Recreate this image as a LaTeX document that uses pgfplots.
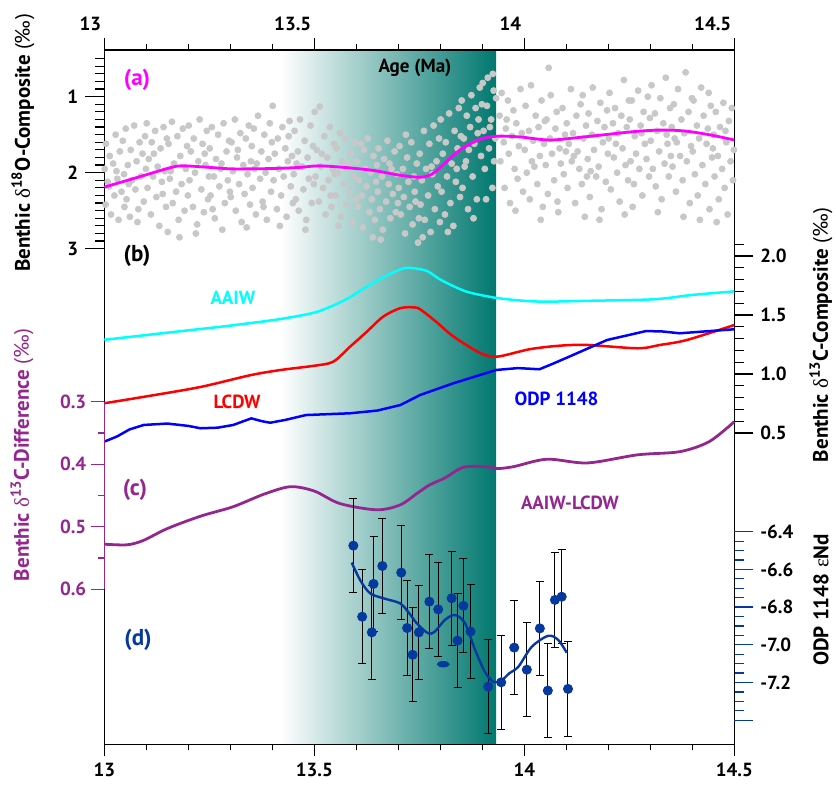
\documentclass[border=0pt]{standalone}
\usepackage{fontspec}
\setmainfont{PT Sans}
\newfontfamily\grk{Liberation Serif}
\usepackage{pgfplots}
\pgfplotsset{compat=1.18}
\definecolor{magC}{HTML}{FF00FF}
\definecolor{cyanC}{HTML}{00FFFF}
\definecolor{redC}{HTML}{FF0000}
\definecolor{blueC}{HTML}{0000FF}
\definecolor{purC}{HTML}{93278F}
\definecolor{ndC}{HTML}{05399E}
\definecolor{tealC}{HTML}{00786F}
\definecolor{scat}{HTML}{C8C8C8}
\newcommand\lab{\bfseries\fontsize{9.5}{11}\selectfont}
\newcommand\ttl{\bfseries\fontsize{10.5}{12}\selectfont}
\newcommand\pnl{\bfseries\fontsize{11.5}{13}\selectfont}
\newcommand\dl{{\grk\mdseries δ}}
\pgfplotsset{
  base/.style={scale only axis, width=315pt, xmin=13, xmax=14.5, clip=false,
    tick align=outside, axis line style={line width=0.75pt},
    every tick/.style={line width=0.6pt, black},
    ticklabel style={font=\lab},
    /pgf/number format/assume math mode=true},
}
\begin{document}
\begin{tikzpicture}
\useasboundingbox (0,0) rectangle (418pt,393pt);

% frame, shading and bottom ticks
\begin{axis}[base, at={(52.15pt,20.85pt)}, anchor=south west, height=347.15pt,
  ymin=0, ymax=1, ytick=\empty, axis on top,
  xtick={13,13.5,14,14.5}, xticklabels={13,13.5,14,14.5},
  minor xtick={13.1,13.2,13.3,13.4,13.6,13.7,13.8,13.9,14.1,14.2,14.3,14.4},
  xtick pos=left, major tick length=6pt, minor tick length=3pt]
  \fill[left color=white, right color=tealC] (axis cs:13.42,0) rectangle (axis cs:13.933,1);
\end{axis}

% (a) benthic d18O
\begin{axis}[base, at={(52.15pt,268.65pt)}, anchor=south west, height=95pt,
  ymin=0.5, ymax=3, y dir=reverse, axis x line=none, axis y line*=left,
  ytick={1,2,3}, yticklabels={1,2,3},
  minor ytick={0.5,0.6,0.7,0.8,0.9,1.1,1.2,1.3,1.4,1.5,1.6,1.7,1.8,1.9,2.1,2.2,2.3,2.4,2.5,2.6,2.7,2.8,2.9},
  major tick length=9.5pt, minor tick length=4.7pt]
  \addplot[scat, only marks, mark=*, mark size=1.5pt, mark options={draw=scat, fill=scat}] coordinates {
  (13.001,1.95)(13.003,2.42)(13.004,1.62)(13.011,2.18)(13.013,1.78)(13.016,2.55)(13.021,1.88)(13.024,2.30)(13.027,1.50)
  (13.031,2.08)(13.034,2.62)(13.037,1.72)(13.041,2.25)(13.044,1.58)(13.047,2.02)(13.008,2.12)(13.029,1.98)(13.048,2.45)
  (13.051,1.42)(13.053,2.35)(13.056,1.90)(13.061,2.58)(13.063,1.70)(13.066,2.10)(13.071,1.38)(13.074,2.22)(13.077,1.85)
  (13.081,2.48)(13.084,1.60)(13.087,2.05)(13.091,1.75)(13.094,2.38)(13.097,1.52)(13.058,2.15)(13.079,2.65)(13.099,1.95)
  (13.101,1.35)(13.103,2.20)(13.106,1.82)(13.111,2.55)(13.113,1.60)(13.116,2.05)(13.121,1.45)(13.124,2.32)(13.127,1.92)
  (13.131,2.70)(13.134,1.68)(13.137,2.12)(13.141,1.40)(13.144,1.98)(13.147,2.45)(13.118,1.75)(13.139,2.28)(13.149,1.55)
  (13.151,2.78)(13.153,1.62)(13.156,2.08)(13.161,1.33)(13.163,2.40)(13.166,1.88)(13.171,2.25)(13.174,1.52)(13.177,2.62)
  (13.181,1.78)(13.184,2.15)(13.187,1.42)(13.191,2.50)(13.194,1.95)(13.197,1.65)(13.158,1.98)(13.179,2.85)(13.199,2.30)
  (13.201,1.38)(13.203,2.10)(13.206,1.72)(13.211,2.45)(13.213,1.55)(13.216,2.00)(13.221,2.68)(13.224,1.85)(13.227,1.30)
  (13.231,2.22)(13.234,1.62)(13.237,2.52)(13.241,1.90)(13.244,1.45)(13.247,2.35)(13.218,2.80)(13.239,1.75)(13.249,2.05)
  (13.251,1.68)(13.253,2.30)(13.256,1.40)(13.261,2.05)(13.263,2.60)(13.266,1.82)(13.271,1.50)(13.274,2.18)(13.277,1.95)
  (13.281,2.75)(13.284,1.35)(13.287,2.40)(13.291,1.72)(13.294,2.10)(13.297,1.58)(13.258,2.48)(13.279,1.88)(13.299,2.25)
  (13.301,2.32)(13.303,1.60)(13.306,1.98)(13.311,1.30)(13.313,2.50)(13.316,1.80)(13.321,2.15)(13.324,1.48)(13.327,2.65)
  (13.331,1.90)(13.334,2.28)(13.337,1.55)(13.341,2.02)(13.344,1.38)(13.347,2.42)(13.318,1.70)(13.339,2.72)(13.349,1.85)
  (13.351,1.65)(13.353,2.20)(13.356,1.42)(13.361,2.55)(13.363,1.88)(13.366,1.25)(13.371,2.08)(13.374,1.72)(13.377,2.38)
  (13.381,1.50)(13.384,2.00)(13.387,2.62)(13.391,1.82)(13.394,1.35)(13.397,2.25)(13.358,1.95)(13.379,2.45)(13.399,1.60)
  (13.401,1.12)(13.403,2.10)(13.406,1.75)(13.411,2.48)(13.413,1.55)(13.416,1.95)(13.421,2.30)(13.424,1.40)(13.427,2.05)
  (13.431,1.68)(13.434,2.58)(13.437,1.85)(13.441,1.32)(13.444,2.18)(13.447,1.78)(13.418,2.70)(13.439,1.52)(13.449,2.40)
  (13.451,2.02)(13.453,1.45)(13.456,2.35)(13.461,1.72)(13.463,2.50)(13.466,1.30)(13.471,1.92)(13.474,2.22)(13.477,1.58)
  (13.481,2.62)(13.484,1.80)(13.487,2.08)(13.491,1.38)(13.494,2.40)(13.497,1.65)(13.458,1.88)(13.479,2.75)(13.499,2.15)
  (13.501,1.20)(13.503,2.05)(13.506,1.70)(13.511,2.38)(13.513,1.13)(13.516,1.92)(13.521,2.20)(13.524,1.52)(13.527,2.55)
  (13.531,1.80)(13.534,2.10)(13.537,1.40)(13.541,2.45)(13.544,1.95)(13.547,1.62)(13.518,1.75)(13.539,2.30)(13.549,2.02)
  (13.551,2.30)(13.553,1.68)(13.556,2.00)(13.561,1.48)(13.563,2.58)(13.566,1.85)(13.571,2.15)(13.574,1.55)(13.577,2.42)
  (13.581,1.90)(13.584,2.25)(13.587,1.75)(13.591,2.65)(13.594,2.05)(13.597,1.60)(13.558,2.70)(13.579,1.95)(13.599,2.35)
  (13.601,1.85)(13.603,2.45)(13.606,2.10)(13.611,1.62)(13.613,2.30)(13.616,2.72)(13.621,1.95)(13.624,2.18)(13.627,1.55)
  (13.631,2.52)(13.634,2.00)(13.637,2.35)(13.641,1.78)(13.644,2.62)(13.647,2.12)(13.618,1.70)(13.639,2.85)(13.649,1.90)
  (13.651,2.25)(13.653,1.68)(13.656,2.48)(13.661,2.05)(13.663,2.75)(13.666,1.82)(13.671,2.38)(13.674,1.58)(13.677,2.15)
  (13.681,2.60)(13.684,1.95)(13.687,2.28)(13.691,1.72)(13.694,2.52)(13.697,2.02)(13.658,2.88)(13.679,1.88)(13.699,2.40)
  (13.701,2.20)(13.703,1.65)(13.706,2.55)(13.711,1.95)(13.713,2.32)(13.716,2.80)(13.721,1.80)(13.724,2.12)(13.727,2.45)
  (13.731,1.60)(13.734,2.68)(13.737,2.05)(13.741,2.38)(13.744,1.88)(13.747,2.92)(13.718,1.50)(13.739,2.25)(13.749,2.60)
  (13.751,1.75)(13.753,2.42)(13.756,2.10)(13.761,1.45)(13.763,2.62)(13.766,1.95)(13.771,2.30)(13.774,1.62)(13.777,2.78)
  (13.781,2.02)(13.784,1.38)(13.787,2.48)(13.791,1.85)(13.794,2.18)(13.797,1.55)(13.758,2.85)(13.779,1.92)(13.799,2.65)
  (13.801,1.30)(13.803,2.25)(13.806,1.75)(13.811,2.55)(13.813,1.60)(13.816,2.05)(13.821,1.22)(13.824,2.40)(13.827,1.88)
  (13.831,2.70)(13.834,1.45)(13.837,2.12)(13.841,1.68)(13.844,1.15)(13.847,2.32)(13.818,2.78)(13.839,1.95)(13.849,1.52)
  (13.851,1.05)(13.853,2.20)(13.856,1.55)(13.861,1.85)(13.863,1.25)(13.866,2.48)(13.871,1.40)(13.874,0.98)(13.877,2.05)
  (13.881,1.62)(13.884,1.15)(13.887,2.35)(13.891,1.30)(13.894,0.88)(13.897,1.78)(13.858,1.92)(13.879,2.60)(13.899,1.10)
  (13.868,1.70)(13.889,1.48)
  (13.901,0.82)(13.903,1.45)(13.906,1.95)(13.911,1.12)(13.913,0.75)(13.916,1.68)(13.921,1.30)(13.924,2.20)(13.927,0.92)
  (13.931,1.55)(13.933,1.02)(13.928,1.85)(13.918,1.40)(13.909,2.35)(13.925,0.70)
  (13.941,1.25)(13.943,1.85)(13.946,0.95)(13.951,1.60)(13.953,2.20)(13.956,1.42)(13.961,1.05)(13.963,1.75)(13.966,2.40)
  (13.971,1.52)(13.974,1.18)(13.977,1.95)(13.981,1.35)(13.984,2.08)(13.987,1.65)(13.991,0.90)(13.994,1.48)(13.997,2.25)
  (13.958,1.30)(13.979,2.50)
  (14.001,1.70)(14.003,1.12)(14.006,2.00)(14.011,1.45)(14.013,2.35)(14.016,0.85)(14.021,1.58)(14.024,1.92)(14.027,1.25)
  (14.031,2.15)(14.034,1.40)(14.037,1.78)(14.041,1.05)(14.044,2.45)(14.047,1.62)(14.018,1.85)(14.039,2.62)(14.049,1.32)
  (14.051,1.90)(14.053,1.30)(14.056,2.28)(14.061,1.55)(14.063,0.98)(14.066,1.75)(14.071,2.10)(14.074,1.42)(14.077,1.20)
  (14.081,2.52)(14.084,1.68)(14.087,1.88)(14.091,1.15)(14.094,2.02)(14.097,1.50)(14.058,0.62)(14.079,2.38)(14.099,1.72)
  (14.101,1.35)(14.103,2.20)(14.106,1.62)(14.111,0.90)(14.113,1.85)(14.116,1.48)(14.121,2.40)(14.124,1.25)(14.127,1.72)
  (14.131,1.95)(14.134,1.10)(14.137,2.15)(14.141,1.55)(14.144,2.58)(14.147,1.38)(14.118,1.78)(14.139,0.98)(14.149,2.05)
  (14.151,1.82)(14.153,1.22)(14.156,2.32)(14.161,1.50)(14.163,0.88)(14.166,1.70)(14.171,2.05)(14.174,1.32)(14.177,1.92)
  (14.181,1.08)(14.184,2.48)(14.187,1.60)(14.191,1.40)(14.194,2.12)(14.197,1.18)(14.158,1.98)(14.179,2.62)(14.199,1.75)
  (14.201,1.55)(14.203,0.95)(14.206,2.22)(14.211,1.35)(14.213,1.80)(14.216,1.15)(14.221,2.00)(14.224,1.48)(14.227,2.38)
  (14.231,1.25)(14.234,1.68)(14.237,0.78)(14.241,1.90)(14.244,1.40)(14.247,2.10)(14.218,1.62)(14.239,2.55)(14.249,1.05)
  (14.251,1.30)(14.253,1.85)(14.256,1.05)(14.261,2.15)(14.263,1.52)(14.266,1.75)(14.271,0.92)(14.274,1.95)(14.277,1.38)
  (14.281,2.30)(14.284,1.20)(14.287,1.62)(14.291,1.82)(14.294,1.00)(14.297,2.05)(14.258,2.45)(14.279,1.48)(14.299,1.28)
  (14.301,1.58)(14.303,0.85)(14.306,1.95)(14.311,1.22)(14.313,2.18)(14.316,1.45)(14.321,1.72)(14.324,1.02)(14.327,2.35)
  (14.331,1.35)(14.334,1.88)(14.337,0.75)(14.341,1.62)(14.344,2.05)(14.347,1.15)(14.318,2.52)(14.339,1.50)(14.349,1.78)
  (14.351,1.40)(14.353,1.92)(14.356,1.10)(14.361,2.25)(14.363,1.60)(14.366,0.90)(14.371,1.78)(14.374,1.30)(14.377,2.10)
  (14.381,1.48)(14.384,0.68)(14.387,1.85)(14.391,1.20)(14.394,2.40)(14.397,1.65)(14.358,1.55)(14.379,2.58)(14.399,1.02)
  (14.401,1.72)(14.403,1.05)(14.406,2.02)(14.411,1.38)(14.413,2.30)(14.416,1.55)(14.421,0.88)(14.424,1.90)(14.427,1.25)
  (14.431,2.15)(14.434,1.62)(14.437,1.42)(14.441,2.48)(14.444,1.12)(14.447,1.80)(14.418,2.62)(14.439,0.95)(14.449,1.68)
  (14.451,1.50)(14.453,2.05)(14.456,1.20)(14.461,1.78)(14.463,2.35)(14.466,1.40)(14.471,1.95)(14.474,1.08)(14.477,2.20)
  (14.481,1.60)(14.484,2.55)(14.487,1.32)(14.491,1.85)(14.494,1.15)(14.497,2.10)(14.458,2.65)(14.479,1.45)(14.499,1.70)
  };
\end{axis}

% (a) smoothed d18O, drawn over the scatter
\begin{axis}[base, at={(52.15pt,268.65pt)}, anchor=south west, height=95pt,
  ymin=0.5, ymax=3, y dir=reverse, hide axis]
  \addplot[magC, line width=1.4pt, smooth] coordinates {
  (13.0,2.19)(13.08,2.06)(13.16,1.93)(13.19,1.91)(13.25,1.93)(13.307,1.95)(13.40,1.945)(13.466,1.93)(13.51,1.91)
  (13.57,1.93)(13.64,1.97)(13.70,2.03)(13.752,2.06)(13.78,2.02)(13.80,1.93)(13.847,1.70)(13.895,1.56)(13.935,1.52)
  (13.99,1.53)(14.061,1.57)(14.141,1.53)(14.26,1.46)(14.323,1.44)(14.379,1.45)(14.44,1.50)(14.5,1.57)
  };
\end{axis}

% (b) benthic d13C composites
\begin{axis}[base, at={(52.15pt,176.5pt)}, anchor=south west, height=94.4pt,
  ymin=0.5, ymax=2.1, axis x line=none, axis y line*=right,
  ytick={0.5,1,1.5,2}, yticklabels={0.5,1.0,1.5,2.0},
  minor ytick={0.6,0.7,0.8,0.9,1.1,1.2,1.3,1.4,1.6,1.7,1.8,1.9,2.1},
  major tick length=9.5pt, minor tick length=4.7pt]
  \addplot[cyanC, line width=1.25pt, smooth] coordinates {
  (13.0,1.29)(13.1,1.33)(13.2,1.37)(13.3,1.41)(13.418,1.465)(13.5,1.52)(13.545,1.58)(13.585,1.65)(13.625,1.74)
  (13.67,1.83)(13.712,1.895)(13.74,1.895)(13.77,1.87)(13.80,1.80)(13.84,1.73)(13.87,1.69)(13.933,1.645)(14.0,1.62)
  (14.054,1.613)(14.15,1.62)(14.308,1.633)(14.4,1.67)(14.5,1.70)
  };
  \addplot[redC, line width=1.25pt, smooth] coordinates {
  (13.0,0.752)(13.1,0.81)(13.229,0.89)(13.348,0.99)(13.42,1.034)(13.5,1.07)(13.545,1.104)(13.585,1.231)(13.625,1.358)
  (13.664,1.486)(13.704,1.557)(13.736,1.565)(13.752,1.548)(13.79,1.443)(13.832,1.316)(13.895,1.178)(13.935,1.147)
  (14.013,1.21)(14.085,1.24)(14.15,1.246)(14.27,1.218)(14.323,1.246)(14.387,1.288)(14.5,1.415)
  };
  \addplot[blueC, line width=1.25pt] coordinates {
  (13.0,0.427)(13.03,0.47)(13.06,0.53)(13.094,0.568)(13.15,0.58)(13.2,0.56)(13.229,0.54)(13.27,0.545)(13.307,0.568)
  (13.35,0.624)(13.375,0.60)(13.395,0.587)(13.43,0.61)(13.48,0.652)(13.585,0.667)(13.65,0.69)(13.705,0.737)
  (13.752,0.822)(13.83,0.92)(13.933,1.034)(13.985,1.05)(14.036,1.04)(14.07,1.09)(14.107,1.147)(14.197,1.288)
  (14.29,1.364)(14.33,1.36)(14.37,1.345)(14.5,1.379)
  };
\end{axis}

% (c) AAIW-LCDW difference
\begin{axis}[base, at={(52.15pt,98.4pt)}, anchor=south west, height=93.75pt,
  ymin=0.3, ymax=0.6, y dir=reverse, axis x line=none, axis y line*=left,
  axis line style={purC}, every tick/.append style={purC},
  yticklabel style={purC, xshift=1pt},
  ytick={0.3,0.4,0.5,0.6}, yticklabels={0.3,0.4,0.5,0.6},
  minor ytick={0.35,0.45,0.55},
  major tick length=6.5pt, minor tick length=3pt]
  \addplot[purC, line width=1.4pt, smooth] coordinates {
  (13.0,0.528)(13.054,0.529)(13.093,0.522)(13.15,0.503)(13.23,0.483)(13.307,0.468)(13.38,0.448)(13.443,0.436)
  (13.5,0.443)(13.561,0.463)(13.649,0.473)(13.705,0.465)(13.744,0.447)(13.775,0.433)(13.811,0.422)(13.855,0.405)
  (13.91,0.404)(13.935,0.407)(13.974,0.404)(14.054,0.392)(14.15,0.398)(14.27,0.385)(14.37,0.38)(14.44,0.364)(14.5,0.332)
  };
\end{axis}

% (d) ODP 1148 eNd
\begin{axis}[base, at={(52.15pt,32.9pt)}, anchor=south west, height=94.25pt,
  ymin=-7.4, ymax=-6.4, axis x line=none, axis y line*=right,
  every tick/.append style={ndC},
  ytick={-7.4,-7.2,-7.0,-6.8,-6.6,-6.4}, yticklabels={,-7.2,-7.0,-6.8,-6.6,-6.4},
  minor ytick={-7.35,-7.3,-7.25,-7.15,-7.1,-7.05,-6.95,-6.9,-6.85,-6.75,-6.7,-6.65,-6.55,-6.5,-6.45},
  major tick length=9.5pt, minor tick length=5pt]
  \addplot[ndC, only marks, mark=*, mark size=2.3pt, mark options={draw=ndC, fill=ndC},
    error bars/.cd, y dir=both, y explicit,
    error bar style={black, line width=0.5pt},
    error mark options={rotate=90, mark size=2pt, black, line width=0.5pt}] coordinates {
  (13.593,-6.474) +- (0,0.25) (13.614,-6.851) +- (0,0.25) (13.637,-6.934) +- (0,0.25)
  (13.641,-6.677) +- (0,0.25) (13.662,-6.582) +- (0,0.25) (13.707,-6.617) +- (0,0.25)
  (13.721,-6.911) +- (0,0.25) (13.734,-7.053) +- (0,0.25) (13.749,-6.934) +- (0,0.25)
  (13.774,-6.771) +- (0,0.25) (13.795,-6.812) +- (0,0.25) (13.827,-6.753) +- (0,0.25)
  (13.841,-6.978) +- (0,0.25) (13.855,-6.793) +- (0,0.25) (13.872,-6.930) +- (0,0.25)
  (13.914,-7.222) +- (0,0.25) (13.945,-7.199) +- (0,0.25) (13.976,-7.015) +- (0,0.25)
  (14.006,-7.132) +- (0,0.25) (14.037,-6.913) +- (0,0.25) (14.056,-7.243) +- (0,0.25)
  (14.073,-6.762) +- (0,0.25) (14.089,-6.745) +- (0,0.25) (14.104,-7.234) +- (0,0.25)
  };
  \addplot[ndC, only marks, mark=*, mark size=2.3pt, mark options={draw=ndC, fill=ndC, xscale=1.3, yscale=0.6}]
    coordinates {(13.807,-7.103)};
  \addplot[ndC, line width=1.2pt, smooth] coordinates {
  (13.589,-6.564)(13.61,-6.66)(13.633,-6.727)(13.664,-6.753)(13.704,-6.78)(13.725,-6.83)(13.744,-6.886)
  (13.771,-6.939)(13.787,-6.93)(13.811,-6.868)(13.835,-6.842)(13.859,-6.886)(13.883,-7.028)(13.906,-7.143)
  (13.926,-7.196)(13.945,-7.19)(13.965,-7.15)(13.986,-7.116)(14.018,-7.01)(14.057,-6.952)(14.081,-6.975)(14.101,-7.042)
  };
\end{axis}

% top tick labels
\begin{axis}[base, at={(52.15pt,20.85pt)}, anchor=south west, height=347.15pt,
  ymin=0, ymax=1, axis x line*=top, axis y line=none,
  xtick={13,13.5,14,14.5}, xticklabels={13,13.5,14,14.5},
  minor xtick={13.1,13.2,13.3,13.4,13.6,13.7,13.8,13.9,14.1,14.2,14.3,14.4},
  major tick length=6pt, minor tick length=3pt,
  xticklabel style={anchor=south east, xshift=2pt}]
\end{axis}

% texts
\node[font=\pnl, text=magC] at (68.5pt,353pt) {(a)};
\node[font=\pnl] at (68.5pt,265pt) {(b)};
\node[font=\pnl, text=purC] at (67.5pt,148pt) {(c)};
\node[font=\pnl, text=ndC] at (69pt,73pt) {(d)};
\node[font=\lab, text=cyanC] at (116.5pt,244pt) {AAIW};
\node[font=\lab, text=redC] at (118.5pt,192pt) {LCDW};
\node[font=\lab, text=blueC] at (278.3pt,193.8pt) {ODP 1148};
\node[font=\lab, text=purC] at (285pt,141.5pt) {AAIW-LCDW};
\node[font=\lab] at (207.5pt,359pt) {Age (Ma)};
\node[font=\ttl, rotate=90] at (11.5pt,321.5pt) {Benthic \dl\textsuperscript{18}O-Composite {\mdseries(‰)}};
\node[font=\ttl, rotate=90, text=purC] at (11pt,165.5pt) {Benthic \dl\textsuperscript{13}C-Difference {\mdseries(‰)}};
\node[font=\ttl, rotate=90] at (410.5pt,225.5pt) {Benthic \dl\textsuperscript{13}C-Composite {\mdseries(‰)}};
\node[font=\ttl, rotate=90] at (410.5pt,93pt) {ODP 1148 {\grk\mdseries ε}Nd};
\end{tikzpicture}
\end{document}
